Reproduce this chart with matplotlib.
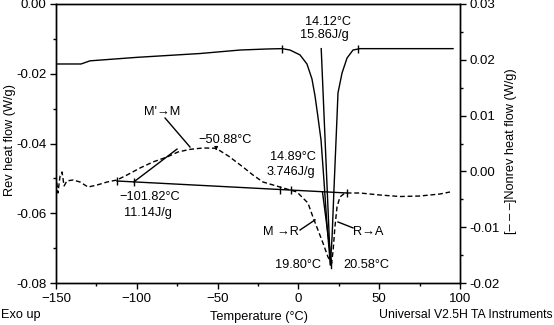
import matplotlib
matplotlib.use('Agg')
import matplotlib.pyplot as plt
from matplotlib.ticker import MultipleLocator

plt.rcParams['font.family'] = ['Liberation Sans', 'DejaVu Sans']
plt.rcParams['font.size'] = 9.2

# reversing heat flow (left axis), W/g
rev_T = [-150, -134.5, -129, -100, -60.9, -36.1, -19.4, -10.1, -5.2, 1.0, 5.3, 8.4,
         10.3, 12.1, 14.0, 15.8, 17.7, 19.8, 20.9, 22.0, 23.3, 23.9, 24.5, 27.0,
         30.1, 33.8, 38.1, 95.7]
rev_val = [-0.0172, -0.0172, -0.0163, -0.0153, -0.0142, -0.0132, -0.0129, -0.0128,
           -0.0132, -0.0146, -0.0172, -0.0215, -0.0264, -0.0324, -0.0390, -0.0505,
           -0.0634, -0.0748, -0.0662, -0.0533, -0.0390, -0.0324, -0.0255, -0.0198,
           -0.0155, -0.0132, -0.0128, -0.0128]

# non-reversing heat flow (right axis), W/g
nonrev_T = [-150, -148.8, -147.5, -146.3, -145.0, -143.2, -139.5, -135.1, -130.2,
            -124.6, -118.4, -112.3, -106.1, -98.0, -90.0, -81.3, -74.5, -67.1, -59.0,
            -51.0, -43.0, -34.3, -28.1, -21.9, -11.4, -0.9, 5.9, 9.0, 12.1, 15.2,
            18.3, 20.58, 21.5, 22.6, 23.9, 25.7, 28.8, 38.1, 50.5, 62.9, 75.2, 87.6,
            93.8]
nonrev_val = [-0.00065, -0.00387, -0.00082, -0.0001, -0.0026, -0.0017, -0.00154,
              -0.0019, -0.0028, -0.00244, -0.0019, -0.00154, -0.00065, 0.00061,
              0.00169, 0.00258, 0.00348, 0.00395, 0.00420, 0.00415, 0.00270, 0.00079,
              -0.00065, -0.0019, -0.0028, -0.00369, -0.00566, -0.00817, -0.0105,
              -0.01283, -0.01534, -0.0164, -0.01409, -0.00996, -0.00638, -0.00459,
              -0.00387, -0.00387, -0.00423, -0.0045, -0.00441, -0.00405, -0.00369]

# integration baseline of the non-reversing peaks
base_T = [-112.3, 30.1]
base_val = [-0.00172, -0.00387]
base_ticks = [-112.3, -101.82, -11.4, -4.6, 30.1]

# integration limits on the reversing peak
rev_base_val = -0.0128
rev_ticks = [-10.1, 36.9]


def base_at(t):
    return base_val[0] + (t - base_T[0]) / (base_T[1] - base_T[0]) * (base_val[1] - base_val[0])


fig = plt.figure(figsize=(5.54, 3.25), dpi=100)
ax = fig.add_axes([0.1011, 0.1292, 0.7292, 0.8585])
ax2 = ax.twinx()

ax.plot(rev_T, rev_val, color='black', lw=1.0)
ax2.plot(nonrev_T, nonrev_val, color='black', lw=1.0, ls=(0, (3.5, 2)))

# baselines and limit marks
ax2.plot(base_T, base_val, color='black', lw=1.0)
ax2.plot(base_ticks, [base_at(t) for t in base_ticks], ls='none', marker='|',
         ms=6, mew=1.0, color='black')
ax.plot(rev_ticks, [rev_base_val] * 2, ls='none', marker='|', ms=6, mew=1.0,
        color='black')

# onset tangent on the hump
ax2.plot([-101.82, -75.1], [base_at(-101.82), 0.0040], color='black', lw=1.0)

# peak lines
ax.plot([14.12, 19.8], [rev_base_val, -0.0748], color='black', lw=1.0)
ax2.plot([14.89, 20.58], [base_at(14.89), -0.0164], color='black', lw=1.0)
ax.plot([20.2, 20.2], [-0.0742, -0.0757], color='black', lw=1.0)

# leader lines
ax.plot([-82.5, -67.1], [-0.0327, -0.0410], color='black', lw=1.0)
ax.plot([1.0, 10.3], [-0.0648, -0.0619], color='black', lw=1.0)
ax.plot([24.5, 33.8], [-0.0625, -0.0642], color='black', lw=1.0)
ax.annotate('', xy=(-50.88, -0.0428), xytext=(-50.88, -0.0405),
            arrowprops=dict(arrowstyle='-|>', color='black', lw=0.8,
                            mutation_scale=5))

labels = [
    (18.3, -0.0052, '14.12°C'),
    (15.8, -0.0089, '15.86J/g'),
    (-84.4, -0.0310, "M'→M"),
    (-45.4, -0.0390, '−50.88°C'),
    (-91.8, -0.0553, '−101.82°C'),
    (-93.1, -0.0599, '11.14J/g'),
    (-3.3, -0.0439, '14.89°C'),
    (-4.6, -0.0482, '3.746J/g'),
    (-10.8, -0.0654, 'M →R'),
    (43.1, -0.0654, 'R→A'),
    (-0.3, -0.0748, '19.80°C'),
    (41.8, -0.0748, '20.58°C'),
]
for t, v, s in labels:
    ax.text(t, v, s, ha='center', va='center')

ax.set_xlim(-150, 100)
ax.set_ylim(-0.08, 0.0)
ax2.set_ylim(-0.02, 0.03)

ax.xaxis.set_major_locator(MultipleLocator(50))
ax.xaxis.set_minor_locator(MultipleLocator(25))
ax.yaxis.set_major_locator(MultipleLocator(0.02))
ax.yaxis.set_minor_locator(MultipleLocator(0.01))
ax2.yaxis.set_major_locator(MultipleLocator(0.01))
ax2.yaxis.set_minor_locator(MultipleLocator(0.005))
ax.yaxis.set_major_formatter(plt.FormatStrFormatter('%.2f'))
ax2.yaxis.set_major_formatter(plt.FormatStrFormatter('%.2f'))

for a in (ax, ax2):
    a.tick_params(which='major', direction='out', length=4.5, width=1, pad=2.5,
                  labelsize=9.5)
    a.tick_params(which='minor', direction='out', length=2.5, width=1)
    for sp in a.spines.values():
        sp.set_linewidth(1.0)

fig.text(10 / 554, 1 - 140 / 325, 'Rev heat flow (W/g)', rotation=90,
         ha='center', va='center')
fig.text(511 / 554, 1 - 151 / 325, '[– – –]Nonrev heat flow (W/g)', rotation=90,
         ha='center', va='center')
fig.text(259 / 554, 1 - 317 / 325, 'Temperature (°C)', ha='center', va='center')
fig.text(1 / 554, 1 - 315 / 325, 'Exo up', ha='left', va='center')
fig.text(553 / 554, 1 - 315 / 325, 'Universal V2.5H TA Instruments', ha='right',
         va='center', fontsize=8.8)

fig.savefig('out.png', dpi=100)
